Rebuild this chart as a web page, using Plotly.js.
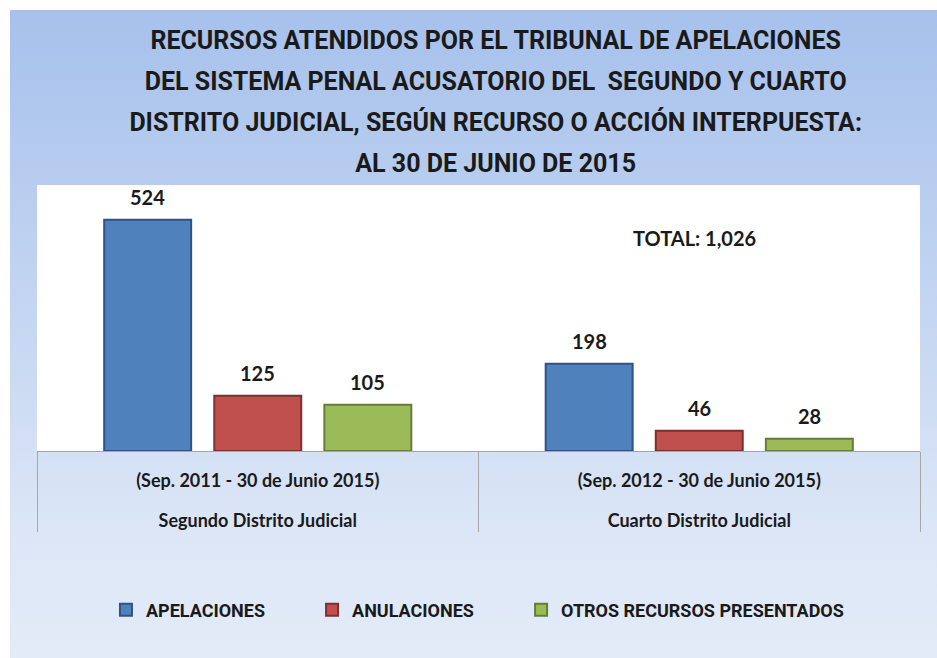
<!DOCTYPE html>
<html>
<head>
<meta charset="utf-8">
<script src="https://cdn.plot.ly/plotly-3.0.1.min.js"></script>
<style>
  html, body { margin: 0; padding: 0; background: #ffffff; }
  #bg { position: absolute; left: 10px; top: 10px; width: 927px; height: 648px;
        background: linear-gradient(to bottom, #a7c1ec 0%, #c3d5f1 45%, #dce6f6 80%, #e3ebf8 100%); }
  #chart { position: absolute; left: 0; top: 0; width: 937px; height: 658px; }
</style>
</head>
<body>
<div id="bg"></div>
<div id="chart"></div>
<script>
// ---- data ----
const districts = ["Segundo Distrito Judicial", "Cuarto Distrito Judicial"];
const periods = ["(Sep. 2011 - 30 de Junio 2015)", "(Sep. 2012 - 30 de Junio 2015)"];
const seriesNames = ["APELACIONES", "ANULACIONES", "OTROS RECURSOS PRESENTADOS"];
const apelaciones = [524, 198];
const anulaciones = [125, 46];
const otros = [105, 28];
const titleLines = [
  "RECURSOS ATENDIDOS POR EL TRIBUNAL DE APELACIONES",
  "DEL SISTEMA PENAL ACUSATORIO DEL  SEGUNDO Y CUARTO",
  "DISTRITO JUDICIAL, SEGÚN RECURSO O ACCIÓN INTERPUESTA:",
  "AL 30 DE JUNIO DE 2015"
];

// ---- styles ----
const fills = ["#4f81bd", "#c0504d", "#9bbb59"];
const edges = ["#2f5483", "#7f2f2d", "#657d34"];
const values = [apelaciones, anulaciones, otros];
const legendIds = ["legend", "legend2", "legend3"];
const BARGAP = 0.252;
const nSeries = values.length;

const total = values.reduce((s, arr) => s + arr.reduce((a, b) => a + b, 0), 0);

// category labels: visible text at 18px; inner level padded with spacer lines
const span18 = t => '<span style="font-size:18px">' + t + '</span>';
const outerLabels = districts.map(span18);
const innerLabels = periods.map(p => "\u00A0<br>" + span18(p) +
  '<br><span style="font-size:30px">\u00A0</span>');

const traces = values.map((vals, i) => ({
  type: "bar",
  name: seriesNames[i],
  legend: legendIds[i],
  x: [outerLabels, innerLabels],
  y: vals,
  marker: { color: fills[i], line: { color: edges[i], width: 2 } },
  hoverinfo: "skip"
}));

// value labels placed over each bar (category index + group offset)
const labelAnnotations = [];
values.forEach((vals, i) => {
  const off = (i - (nSeries - 1) / 2) * (1 - BARGAP) / nSeries;
  vals.forEach((v, j) => {
    labelAnnotations.push({
      xref: "x", yref: "y",
      x: j + off, y: v,
      text: String(v),
      showarrow: false,
      xanchor: "center", yanchor: "bottom",
      yshift: 9,
      font: { family: "Lato", size: 20, weight: "bold", color: "#1a1a1a" }
    });
  });
});

const legendBase = {
  orientation: "h",
  xanchor: "left",
  y: -0.598, yanchor: "middle",
  font: { family: "Roboto", size: 18, weight: "bold", color: "#1a1a1a" },
  bgcolor: "rgba(0,0,0,0)"
};

const layout = {
  width: 937,
  height: 658,
  margin: { l: 37, r: 17, t: 185, b: 207 },
  paper_bgcolor: "rgba(0,0,0,0)",
  plot_bgcolor: "#ffffff",
  barmode: "group",
  bargap: BARGAP,
  bargroupgap: 0.21,
  title: {
    text: titleLines.map(t => '<span style="font-size:25px">' + t + '</span>').join("<br>"),
    font: { family: "Roboto", size: 31.5, weight: "bold", color: "#1a1a1a" },
    x: 0.529, xanchor: "center",
    y: 0.9255, yanchor: "top"
  },
  xaxis: {
    type: "multicategory",
    showline: true,
    linecolor: "#a6a6a6",
    linewidth: 1,
    showdividers: true,
    dividercolor: "#a6a6a6",
    dividerwidth: 1,
    ticks: "outside",
    ticklen: 20,
    tickcolor: "rgba(0,0,0,0)",
    tickfont: { family: "Lato", size: 14, weight: "bold", color: "#1a1a1a" },
    fixedrange: true
  },
  yaxis: {
    range: [0, 603],
    showgrid: false,
    zeroline: false,
    showticklabels: false,
    ticks: "",
    fixedrange: true
  },
  legend: Object.assign({}, legendBase, { x: 0.0781 }),
  legend2: Object.assign({}, legendBase, { x: 0.3115 }),
  legend3: Object.assign({}, legendBase, { x: 0.5482 }),
  annotations: labelAnnotations.concat([{
    xref: "paper", yref: "paper",
    x: 0.745, y: 0.80,
    xanchor: "center", yanchor: "middle",
    text: "TOTAL: " + total.toLocaleString("en-US"),
    showarrow: false,
    font: { family: "Lato", size: 20, weight: "bold", color: "#1a1a1a" }
  }]),
  showlegend: true
};

Plotly.newPlot("chart", traces, layout, { displayModeBar: false, staticPlot: true });
</script>
</body>
</html>
